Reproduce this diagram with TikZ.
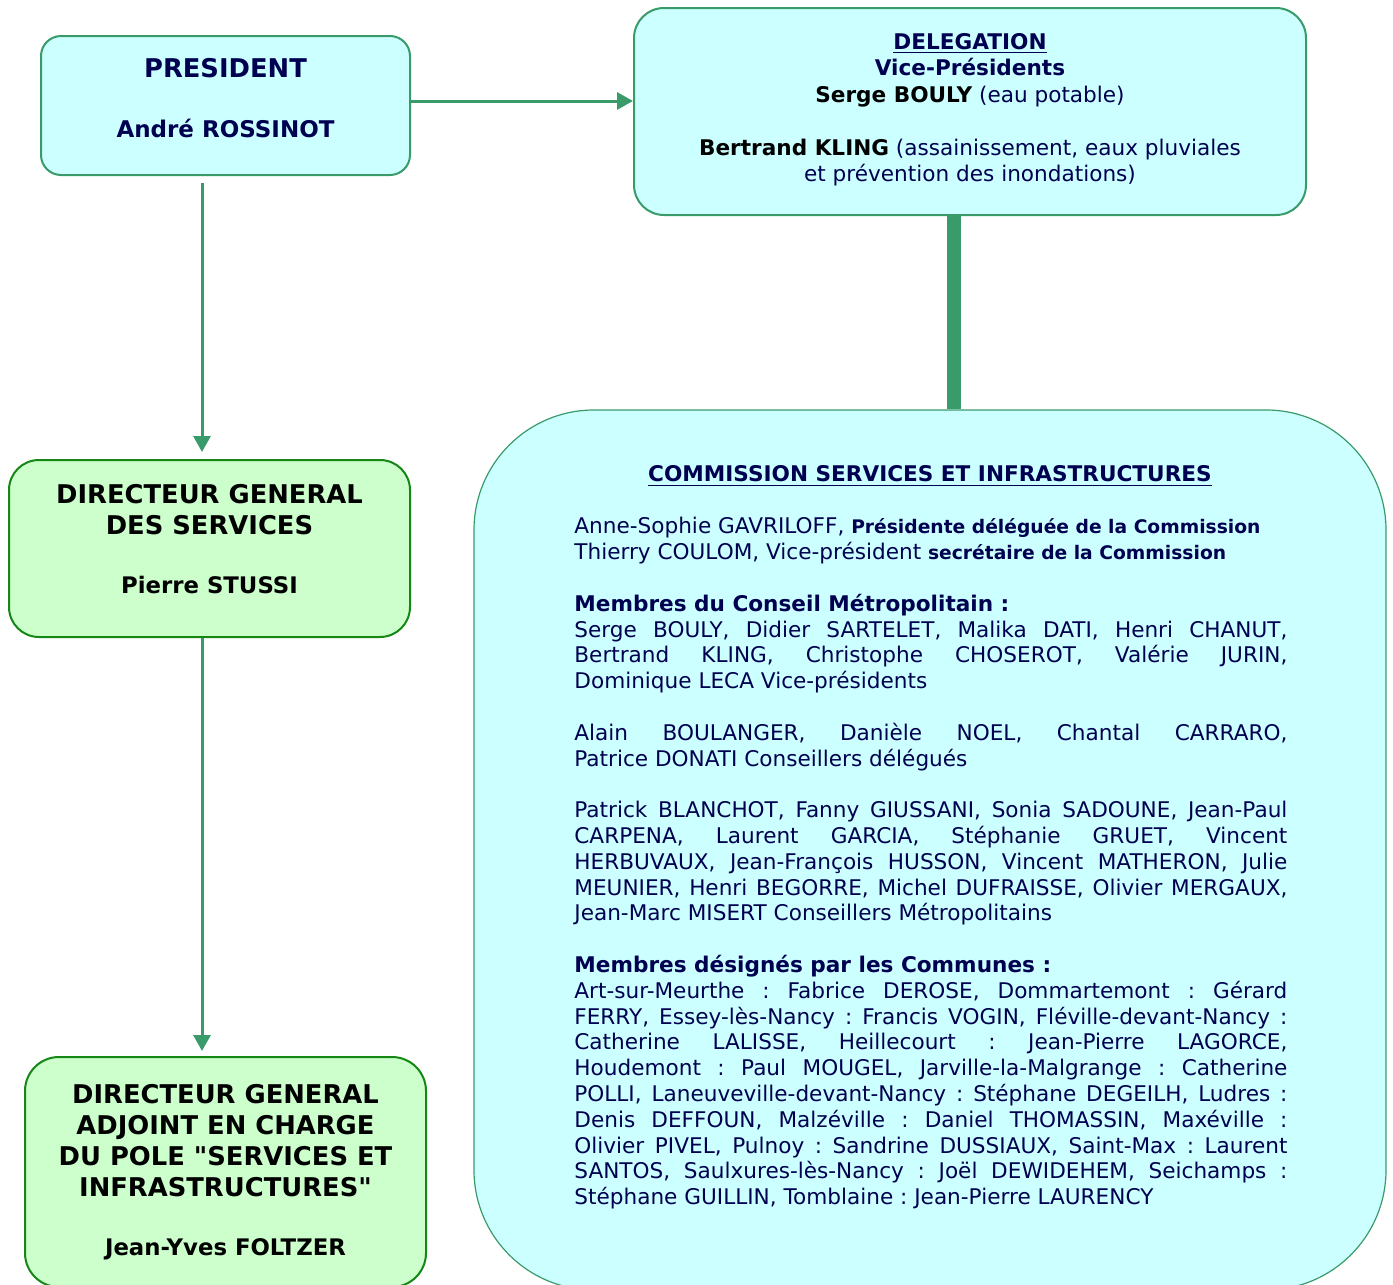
\documentclass[tikz,border=0pt]{standalone}
\usepackage{fontspec}
\setmainfont{DejaVu Sans}[Ligatures=TeXOff]
\usetikzlibrary{arrows.meta}
\definecolor{navy}{RGB}{0,0,80}
\definecolor{linegreen}{RGB}{58,155,106}
\definecolor{darkgreen}{RGB}{20,135,20}
\definecolor{paleblue}{RGB}{204,255,255}
\definecolor{palegreen}{RGB}{204,255,204}
\frenchspacing
\begin{document}
\begin{tikzpicture}[x=0.5pt, y=-0.5pt,
	cyanbox/.style={shape=rectangle, draw=linegreen, line width=1pt, fill=paleblue, align=center, text=navy, inner sep=0pt},
	greenbox/.style={shape=rectangle, draw=darkgreen, line width=1pt, fill=palegreen, align=center, text=black, inner sep=0pt, font=\fontsize{12.9}{15.5}\selectfont\bfseries},
	arr/.style={draw=linegreen, line width=1.5pt, -{Triangle[length=8pt,width=8.5pt]}},
	link/.style={draw=linegreen, line width=7pt}]
	\useasboundingbox (0,0) rectangle (1393,1285);
	\clip (0,0) rectangle (1393,1285);

			\node (pres)[cyanbox, rounded corners=10pt, minimum width=184.5pt, minimum height=69.5pt, font=\fontsize{11.5}{15}\selectfont\bfseries] 
			at (225.5,105.5){
				{\fontsize{12.9}{15}\selectfont PRESIDENT} \\[15pt]
				André ROSSINOT\rule[-8pt]{0pt}{8pt}
			}; 

			\node (deleg)[cyanbox, rounded corners=15pt, minimum width=336pt, minimum height=103.5pt, font=\fontsize{10.8}{13.2}\selectfont] 
			at (970,111.5){
				\textbf{\underline{DELEGATION}} \\
				\textbf{Vice-Présidents} \\
				\textbf{\color{black}Serge BOULY} (eau potable) \\[13.2pt]
				\textbf{\color{black}Bertrand KLING} (assainissement, eaux pluviales \\
				et prévention des inondations)\rule[-4pt]{0pt}{4pt}
			}; 

			\node (dgs)[greenbox, rounded corners=15pt, minimum width=200.5pt, minimum height=88.5pt] 
			at (209.5,548.5){
				DIRECTEUR GENERAL \\
				DES SERVICES \\[14pt]
				{\fontsize{11.4}{14}\selectfont Pierre STUSSI}\rule[-10pt]{0pt}{10pt}
			}; 

			\node (dga)[greenbox, rounded corners=17pt, minimum width=200.5pt, minimum height=115pt] 
			at (225.5,1172){
				DIRECTEUR GENERAL \\
				ADJOINT EN CHARGE \\
				DU POLE "SERVICES ET \\
				INFRASTRUCTURES" \\[14pt]
				{\fontsize{11.4}{14}\selectfont Jean-Yves FOLTZER}
			}; 

			\node (comm)[cyanbox, rounded corners=60pt, line width=0.6pt, minimum width=456pt, minimum height=440pt] 
			at (930,850){}; 

			\node (ctitle)[text=navy, inner sep=0pt, font=\fontsize{10.8}{13}\selectfont\bfseries] 
			at (930,476){
				\underline{COMMISSION SERVICES ET INFRASTRUCTURES}
			}; 

			\node (cbody)[anchor=north west, text=navy, inner sep=0pt, text width=356.5pt, align=justify, font=\fontsize{10.8}{12.9}\selectfont] 
			at (574,517){
				Anne-Sophie GAVRILOFF, {\fontsize{9.35}{12.9}\selectfont\bfseries Présidente déléguée de la Commission} \\
				Thierry COULOM, Vice-président {\fontsize{9.35}{12.9}\selectfont\bfseries secrétaire de la Commission} \\[12.9pt]
				\textbf{Membres du Conseil Métropolitain :} \\
				Serge BOULY, Didier SARTELET, Malika DATI, Henri CHANUT,\linebreak
				Bertrand KLING, Christophe CHOSEROT, Valérie JURIN,\linebreak
				Dominique LECA Vice-présidents \\[12.9pt]
				Alain BOULANGER, Danièle NOEL, Chantal CARRARO,\linebreak
				Patrice DONATI Conseillers délégués \\[12.9pt]
				Patrick BLANCHOT, Fanny GIUSSANI, Sonia SADOUNE, Jean-Paul\linebreak
				CARPENA, Laurent GARCIA, Stéphanie GRUET, Vincent\linebreak
				HERBUVAUX, Jean-François HUSSON, Vincent MATHERON, Julie\linebreak
				MEUNIER, Henri BEGORRE, Michel DUFRAISSE, Olivier MERGAUX,\linebreak
				Jean-Marc MISERT Conseillers Métropolitains \\[12.9pt]
				\textbf{Membres désignés par les Communes :} \\
				Art-sur-Meurthe : Fabrice DEROSE, Dommartemont : Gérard\linebreak
				FERRY, Essey-lès-Nancy : Francis VOGIN, Fléville-devant-Nancy :\linebreak
				Catherine LALISSE, Heillecourt : Jean-Pierre LAGORCE,\linebreak
				Houdemont : Paul MOUGEL, Jarville-la-Malgrange : Catherine\linebreak
				POLLI, Laneuveville-devant-Nancy : Stéphane DEGEILH, Ludres :\linebreak
				Denis DEFFOUN, Malzéville : Daniel THOMASSIN, Maxéville :\linebreak
				Olivier PIVEL, Pulnoy : Sandrine DUSSIAUX, Saint-Max : Laurent\linebreak
				SANTOS, Saulxures-lès-Nancy : Joël DEWIDEHEM, Seichamps :\linebreak
				Stéphane GUILLIN, Tomblaine : Jean-Pierre LAURENCY
			}; 

			\coordinate (spine) at (202,0);
			\coordinate (trunk) at (954,0);

			\path ([yshift=2.25pt]pres.east) edge[arr] ([yshift=2.25pt]pres.east -| deleg.west);
			\path ([yshift=-3.5pt]spine |- pres.south) edge[arr] ([yshift=3.5pt]spine |- dgs.north);
			\path (spine |- dgs.south) edge[arr] ([yshift=2.5pt]spine |- dga.north);
			\path (trunk |- deleg.south) edge[link] (trunk |- comm.north);
		\end{tikzpicture}
\end{document}
